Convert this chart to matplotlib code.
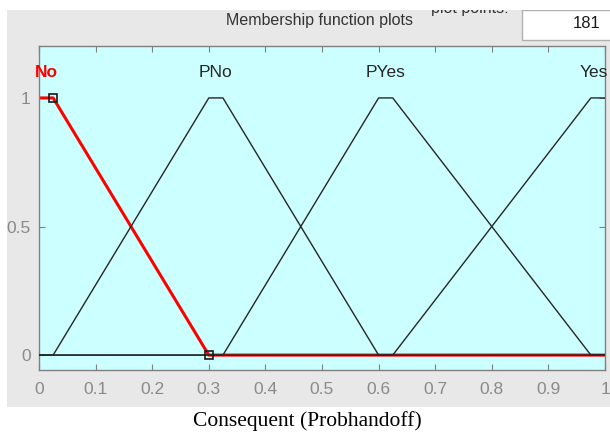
import matplotlib
matplotlib.use("Agg")
import matplotlib.pyplot as plt
from matplotlib.patches import Rectangle

# membership functions (vertex lists)
mf_names = ["No", "PNo", "PYes", "Yes"]
no_x = [0, 0.025, 0.3, 1]
no_y = [1, 1, 0, 0]
pno_x = [0, 0.025, 0.3, 0.325, 0.6, 1]
pno_y = [0, 0, 1, 1, 0, 0]
pyes_x = [0, 0.325, 0.6, 0.625, 0.975, 1]
pyes_y = [0, 0, 1, 1, 0, 0]
yes_x = [0, 0.625, 0.975, 1]
yes_y = [0, 0, 1, 1]
label_x = [0.0125, 0.3125, 0.6125, 1.005]
label_ha = ["center", "center", "center", "right"]
square_x = [0.025, 0.3]
square_y = [1, 0]

x_ticks = [0, 0.1, 0.2, 0.3, 0.4, 0.5, 0.6, 0.7, 0.8, 0.9, 1]
x_ticklabels = ["0", "0.1", "0.2", "0.3", "0.4", "0.5", "0.6", "0.7", "0.8", "0.9", "1"]
y_ticks = [0, 0.5, 1]
y_ticklabels = ["0", "0.5", "1"]

W, H = 610, 434
plt.rcParams["font.family"] = ["Liberation Sans", "DejaVu Sans"]

fig = plt.figure(figsize=(W / 100, H / 100), dpi=100)
fig.patch.set_facecolor("white")

def fx(px):
    return px / W

def fy(py):
    return 1 - py / H

# gray panel
fig.patches.append(Rectangle((fx(7), fy(407)), fx(610) - fx(7), fy(10) - fy(407),
                             transform=fig.transFigure, facecolor="#e8e8e8",
                             edgecolor="none", zorder=-2))

ax = fig.add_axes([fx(39), fy(370), fx(605) - fx(39), fy(46) - fy(370)])
ax.set_zorder(1)
ax.set_facecolor("#ccffff")

ax.plot(no_x, no_y, color="red", lw=2.2, zorder=2)
ax.plot(pno_x, pno_y, color="#262626", lw=1.0, zorder=3)
ax.plot(pyes_x, pyes_y, color="#262626", lw=1.0, zorder=3)
ax.plot(yes_x, yes_y, color="#262626", lw=1.0, zorder=3)
ax.plot(square_x, square_y, ls="none", marker="s", ms=6, mfc="none",
        mec="#1a1a1a", mew=1.2, zorder=4, clip_on=False)

for i, name in enumerate(mf_names):
    ax.text(label_x[i], 1.1, name, ha=label_ha[i], va="center", fontsize=12.5,
            color="red" if i == 0 else "#262626",
            fontweight="bold" if i == 0 else "normal", clip_on=False)

ax.set_xlim(0, 1)
ax.set_ylim(-0.058, 1.202)
ax.set_xticks(x_ticks)
ax.set_xticklabels(x_ticklabels)
ax.set_yticks(y_ticks)
ax.set_yticklabels(y_ticklabels)
ax.tick_params(direction="in", length=4, width=0.8, color="#808080",
               labelcolor="#8a8a8a", labelsize=12.5, top=True, right=True)
ax.tick_params(axis="x", pad=9)
ax.tick_params(axis="y", pad=6)
for s in ax.spines.values():
    s.set_color("#808080")
    s.set_linewidth(1)

# header texts
fig.text(fx(319), fy(21), "Membership function plots", ha="center", va="center",
         fontsize=11.5, color="#333333")
fig.text(fx(470), fy(9), "plot points:", ha="center", va="center",
         fontsize=11.5, color="#333333")
fig.patches.append(Rectangle((fx(522), fy(40)), fx(620) - fx(522), fy(10) - fy(40),
                             transform=fig.transFigure, facecolor="white",
                             edgecolor="#b0b0b0", lw=1, zorder=3))
fig.text(fx(601), fy(23), "181", ha="right", va="center",
         fontsize=12, color="#1a1a1a", zorder=4)
# white strip on top
fig.patches.append(Rectangle((0, fy(10)), 1, 1 - fy(10), transform=fig.transFigure,
                             facecolor="white", edgecolor="none", zorder=5))

# caption
fig.text(fx(307), fy(421), "Consequent (Probhandoff)", ha="center", va="center",
         fontsize=15.5, family=["Liberation Serif", "DejaVu Serif"], color="black")

fig.savefig("out.png", dpi=100)
